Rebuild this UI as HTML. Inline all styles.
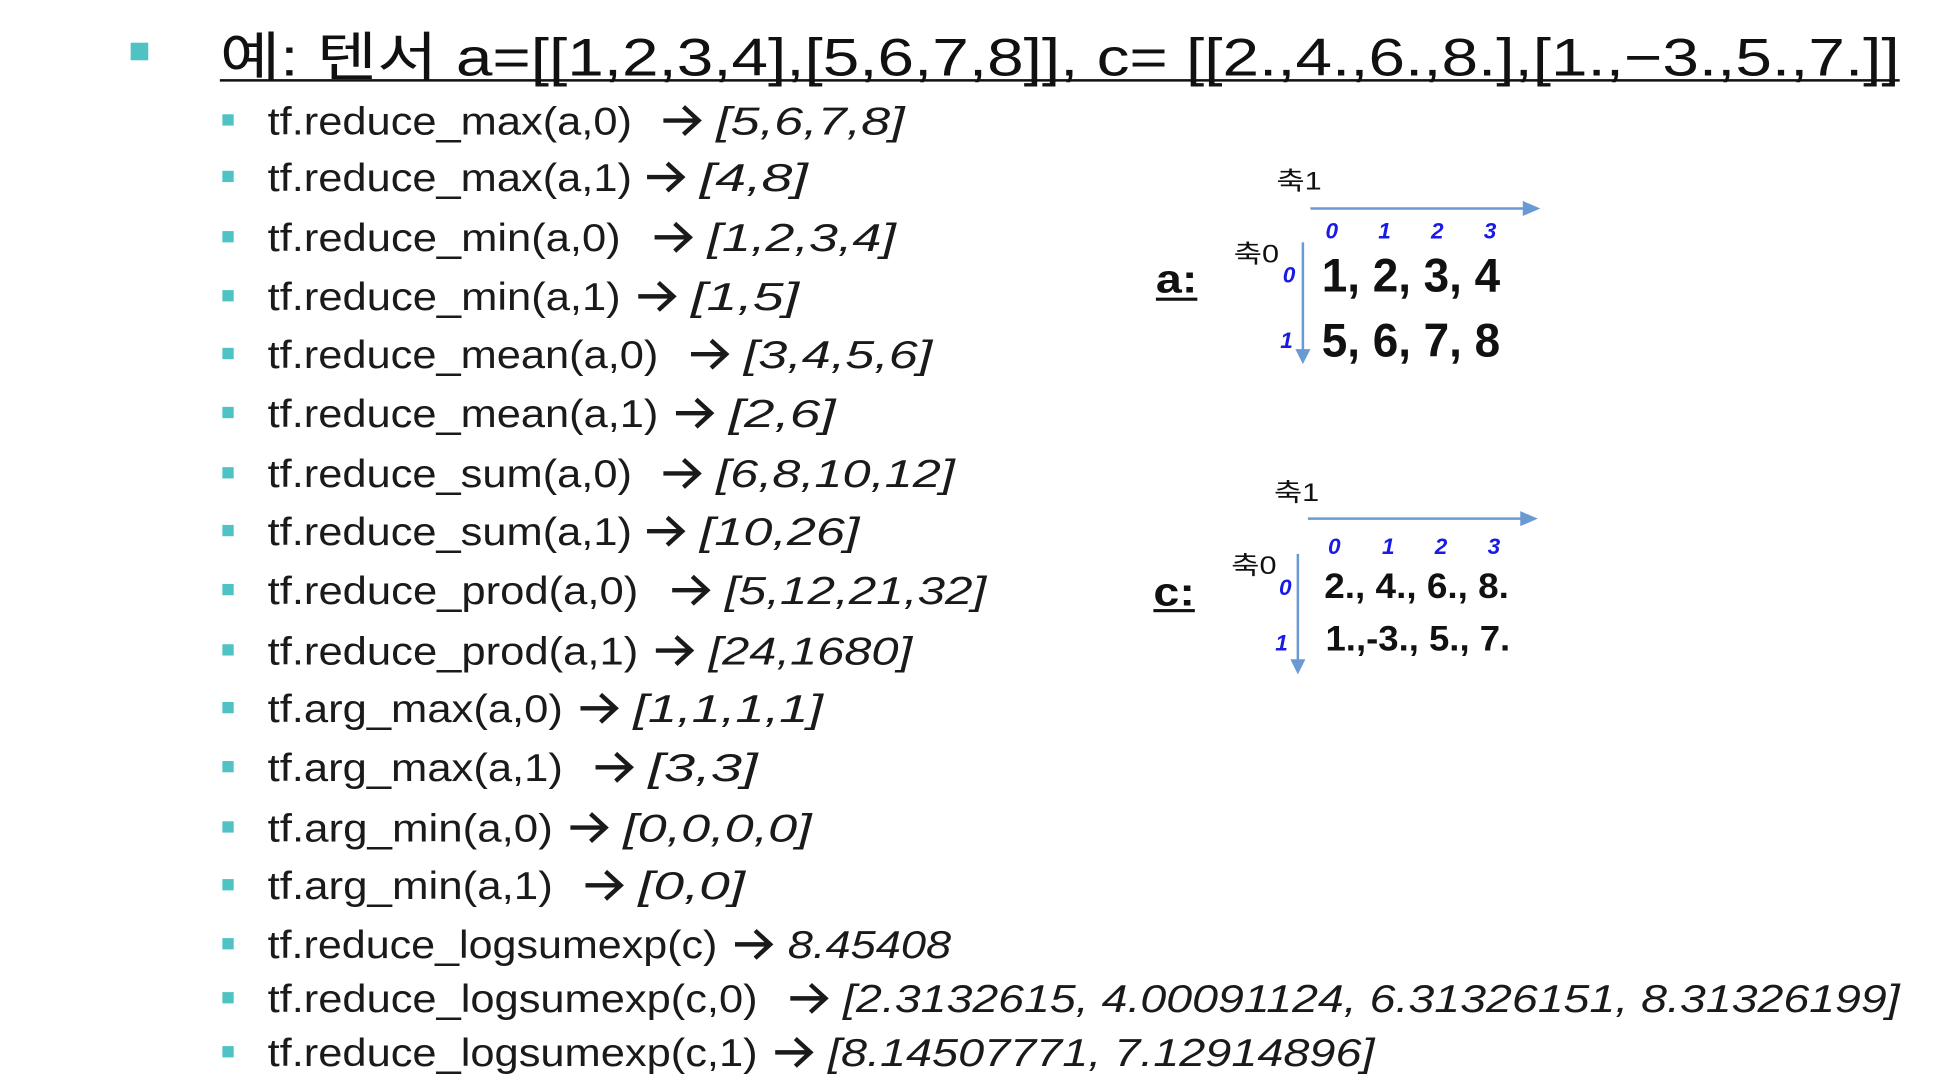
<!DOCTYPE html>
<html><head><meta charset="utf-8"><style>
html,body{margin:0;padding:0;background:#fff;width:1960px;height:1080px;overflow:hidden}
svg{display:block}
text{font-family:"Liberation Sans","Noto Sans CJK KR",sans-serif}
</style></head><body>
<svg width="1960" height="1080" viewBox="0 0 1560 860" preserveAspectRatio="none">
<g>
<rect x="104" y="34" width="14" height="14" fill="#4fc3c3"/>
<text x="175" y="60" font-size="42" fill="#111" textLength="1337" lengthAdjust="spacingAndGlyphs">예: 텐서 a=[[1,2,3,4],[5,6,7,8]], c= [[2.,4.,6.,8.],[1.,−3.,5.,7.]]</text>
<rect x="175" y="63" width="1337" height="2" fill="#111"/>
</g>
<g id="items"></g>

<g fill="#111">
<text x="920" y="233" font-size="32" font-weight="bold" textLength="33" lengthAdjust="spacingAndGlyphs">a:</text>
<rect x="920" y="237" width="33" height="2.5" fill="#111"/>
<text x="1016" y="151" font-size="20" textLength="36" lengthAdjust="spacingAndGlyphs">축1</text>
<line x1="1043" y1="166" x2="1214" y2="166" stroke="#6a9ad4" stroke-width="2"/>
<polygon points="1212,160 1226,166 1212,172" fill="#6a9ad4"/>
<g font-size="18" font-weight="bold" font-style="italic" fill="#1a1ae6" text-anchor="middle">
<text x="1060" y="190">0</text><text x="1102" y="190">1</text><text x="1144" y="190">2</text><text x="1186" y="190">3</text>
</g>
<text x="982" y="209" font-size="20" textLength="36" lengthAdjust="spacingAndGlyphs">축0</text>
<line x1="1037" y1="193" x2="1037" y2="280" stroke="#6a9ad4" stroke-width="2"/>
<polygon points="1031,278 1037,290 1043,278" fill="#6a9ad4"/>
<g font-size="18" font-weight="bold" font-style="italic" fill="#1a1ae6" text-anchor="middle">
<text x="1026" y="225">0</text><text x="1024" y="277">1</text>
</g>
<text x="1052" y="232" font-size="38" font-weight="bold" textLength="142" lengthAdjust="spacingAndGlyphs">1, 2, 3, 4</text>
<text x="1052" y="284" font-size="38" font-weight="bold" textLength="142" lengthAdjust="spacingAndGlyphs">5, 6, 7, 8</text>
</g>

<g fill="#111">
<text x="918" y="482" font-size="32" font-weight="bold" textLength="33" lengthAdjust="spacingAndGlyphs">c:</text>
<rect x="918" y="485" width="33" height="2.5" fill="#111"/>
<text x="1014" y="399" font-size="20" textLength="36" lengthAdjust="spacingAndGlyphs">축1</text>
<line x1="1041" y1="413" x2="1212" y2="413" stroke="#6a9ad4" stroke-width="2"/>
<polygon points="1210,407 1224,413 1210,419" fill="#6a9ad4"/>
<g font-size="18" font-weight="bold" font-style="italic" fill="#1a1ae6" text-anchor="middle">
<text x="1062" y="441">0</text><text x="1105" y="441">1</text><text x="1147" y="441">2</text><text x="1189" y="441">3</text>
</g>
<text x="980" y="457" font-size="20" textLength="36" lengthAdjust="spacingAndGlyphs">축0</text>
<line x1="1033" y1="441" x2="1033" y2="527" stroke="#6a9ad4" stroke-width="2"/>
<polygon points="1027,525 1033,537 1039,525" fill="#6a9ad4"/>
<g font-size="18" font-weight="bold" font-style="italic" fill="#1a1ae6" text-anchor="middle">
<text x="1023" y="474">0</text><text x="1020" y="518">1</text>
</g>
<text x="1054" y="476" font-size="28" font-weight="bold" textLength="147" lengthAdjust="spacingAndGlyphs">2., 4., 6.,  8.</text>
<text x="1055" y="518" font-size="28" font-weight="bold" textLength="147" lengthAdjust="spacingAndGlyphs">1.,-3., 5.,  7.</text>
</g>
</svg>
<script>
const rowY=[96,141,189,236,282,329,377,423,470,518,564,611,659,705,752,795,838];
const funcs=["tf.reduce_max(a,0)","tf.reduce_max(a,1)","tf.reduce_min(a,0)","tf.reduce_min(a,1)","tf.reduce_mean(a,0)","tf.reduce_mean(a,1)","tf.reduce_sum(a,0)","tf.reduce_sum(a,1)","tf.reduce_prod(a,0)","tf.reduce_prod(a,1)","tf.arg_max(a,0)","tf.arg_max(a,1)","tf.arg_min(a,0)","tf.arg_min(a,1)","tf.reduce_logsumexp(c)","tf.reduce_logsumexp(c,0)","tf.reduce_logsumexp(c,1)"];
const funcEnd=[503,503,494,494,524,524,503,503,508,508,448,448,440,440,571,603,603];
const arrowX=[528,515,521,508,550,538,528,515,535,522,462,474,454,466,585,629,617];
const results=["[5,6,7,8]","[4,8]","[1,2,3,4]","[1,5]","[3,4,5,6]","[2,6]","[6,8,10,12]","[10,26]","[5,12,21,32]","[24,1680]","[1,1,1,1]","[3,3]","[0,0,0,0]","[0,0]","8.45408","[2.3132615, 4.00091124, 6.31326151, 8.31326199]","[8.14507771, 7.12914896]"];
const resEnd=[720,643,713,636,742,665,760,684,785,726,655,603,646,593,757,1512,1094];
const NS="http://www.w3.org/2000/svg";
const g=document.getElementById('items');
function mk(tag,attrs){const e=document.createElementNS(NS,tag);for(const k in attrs)e.setAttribute(k,attrs[k]);return e;}
rowY.forEach((y,i)=>{
  const row=mk('g',{});
  
  
  const b=mk('rect',{x:177,y:y-5,width:9,height:9,fill:'#4fc3c3'});
  
  
  row.appendChild(b);
  const f=mk('text',{x:213,y:y+11,'font-size':31,fill:'#1a1a1a',textLength:funcEnd[i]-213,lengthAdjust:'spacingAndGlyphs'});
  f.textContent=funcs[i];
  
  
  row.appendChild(f);
  const ax=arrowX[i];
  const a=mk('path',{d:`M${ax} ${y} H${ax+27} M${ax+16} ${y-11} L${ax+28} ${y} L${ax+16} ${y+11}`,stroke:'#1a1a1a','stroke-width':3.5,fill:'none'});
  
  
  row.appendChild(a);
  const rx=ax+42;
  const r=mk('text',{x:rx,y:y+11,'font-size':31,'font-style':'italic',fill:'#1a1a1a',textLength:resEnd[i]-rx,lengthAdjust:'spacingAndGlyphs'});
  r.textContent=results[i];
  
  
  row.appendChild(r);
  g.appendChild(row);
});
</script>
</body></html>
